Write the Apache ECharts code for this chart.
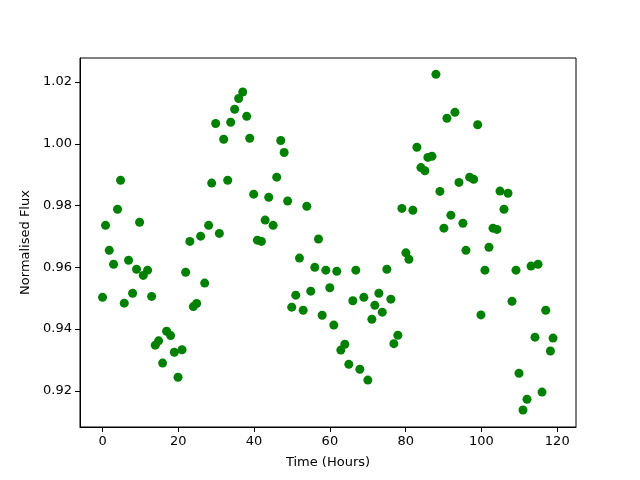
<!DOCTYPE html>
<html>
<head>
<meta charset="utf-8">
<script src="https://cdn.jsdelivr.net/npm/echarts@6/dist/echarts.min.js"></script>
<style>
html,body{margin:0;padding:0;background:#fff;}
#main{width:640px;height:480px;}
</style>
</head>
<body>
<div id="main"></div>
<script>
// time in hours
var hours = [0.0,0.79,1.77,2.91,3.96,4.76,5.73,6.87,7.93,8.98,9.78,10.75,11.89,12.95,13.92,14.80,15.85,16.91,17.97,18.94,
  19.92,20.98,21.93,23.04,23.96,24.83,25.89,26.95,28.00,28.80,29.85,30.83,31.97,33.03,33.82,34.87,35.93,36.99,38.04,38.84,
  39.89,40.87,41.93,42.91,43.86,45.02,45.97,47.03,47.93,48.85,49.93,50.99,51.97,52.95,53.90,54.95,56.01,56.99,57.96,58.92,
  59.97,61.03,61.82,62.88,63.94,64.99,66.05,66.84,67.90,68.96,70.01,71.07,71.86,72.92,73.82,75.03,76.09,76.88,77.94,79.00,
  80.05,80.85,81.90,82.96,84.02,85.07,85.86,86.92,87.98,89.04,90.09,90.89,91.94,93.00,94.06,95.11,95.90,96.88,97.94,99.00,
  99.87,100.92,101.98,103.04,104.10,104.89,105.94,107.00,108.06,109.11,109.91,110.96,112.02,113.08,114.13,114.93,115.98,116.96,118.20,118.89];
// normalised flux
var flux = [0.9503,0.9736,0.9655,0.9610,0.9788,0.9882,0.9484,0.9623,0.9516,0.9594,0.9746,0.9574,0.9591,0.9506,0.9348,0.9362,0.9290,0.9393,0.9379,0.9325,
  0.9244,0.9333,0.9584,0.9684,0.9473,0.9483,0.9701,0.9549,0.9736,0.9873,1.0066,0.9710,1.0015,0.9882,1.0070,1.0112,1.0147,1.0168,1.0089,1.0018,
  0.9837,0.9688,0.9684,0.9753,0.9827,0.9736,0.9892,1.0011,0.9972,0.9815,0.9471,0.9510,0.9630,0.9461,0.9798,0.9523,0.9600,0.9692,0.9445,0.9591,
  0.9534,0.9413,0.9587,0.9332,0.9351,0.9286,0.9492,0.9591,0.9270,0.9503,0.9235,0.9432,0.9477,0.9516,0.9455,0.9594,0.9497,0.9353,0.9380,0.9791,
  0.9647,0.9626,0.9785,0.9989,0.9923,0.9913,0.9956,0.9960,1.0225,0.9846,0.9727,1.0083,0.9769,1.0102,0.9875,0.9743,0.9655,0.9892,0.9885,1.0062,
  0.9446,0.9591,0.9665,0.9727,0.9723,0.9847,0.9788,0.9840,0.9490,0.9591,0.9257,0.9138,0.9173,0.9604,0.9374,0.9610,0.9196,0.9461,0.9329,0.9371];
var xTicks = [0,20,40,60,80,100,120];
var yTicks = [0.92,0.94,0.96,0.98,1.00,1.02];

var pts = [];
for (var i = 0; i < hours.length; i++) pts.push([hours[i], flux[i]]);

var chart = echarts.init(document.getElementById("main"));
var font = "DejaVu Sans";
chart.setOption({
  animation:false,
  grid:{left:80,right:64,top:58,bottom:53,show:true,borderColor:"#000",borderWidth:1,backgroundColor:"transparent"},
  xAxis:{
    type:"value",min:-5.95,max:124.95,
    name:"Time (Hours)",nameLocation:"middle",nameGap:29,
    nameTextStyle:{fontFamily:font,fontSize:13,color:"#000"},
    splitLine:{show:false},
    axisLine:{show:true,onZero:false,lineStyle:{color:"#000",width:1}},
    axisTick:{show:true,inside:false,length:5,lineStyle:{color:"#000"},customValues:xTicks},
    axisLabel:{fontFamily:font,fontSize:13,color:"#000",margin:8,customValues:xTicks}
  },
  yAxis:{
    type:"value",min:0.9083,max:1.0278,
    name:"Normalised Flux",nameLocation:"middle",nameGap:46,nameRotate:90,
    nameTextStyle:{fontFamily:font,fontSize:13,color:"#000"},
    splitLine:{show:false},
    axisLine:{show:true,onZero:false,lineStyle:{color:"#000",width:1}},
    axisTick:{show:true,inside:false,length:5,lineStyle:{color:"#000"},customValues:yTicks},
    axisLabel:{fontFamily:font,fontSize:13,color:"#000",margin:8,customValues:yTicks,
      formatter:function(v){return v.toFixed(2);}}
  },
  series:[{
    type:"scatter",
    data:pts,
    symbol:"circle",
    symbolSize:9,
    itemStyle:{color:"#008000",opacity:1}
  }]
});
</script>
</body>
</html>
